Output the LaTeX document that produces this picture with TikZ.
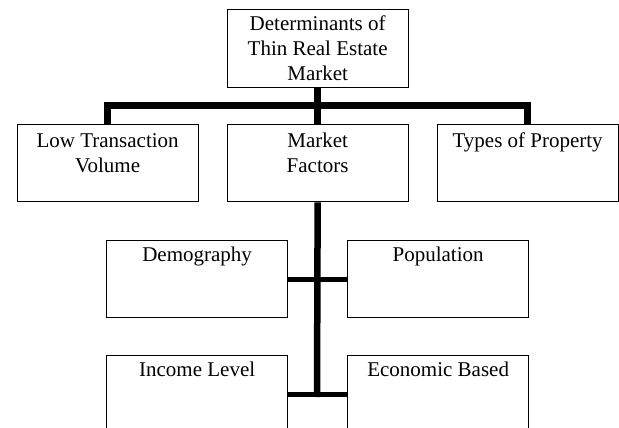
\documentclass[tikz,border=0pt]{standalone}
\usepackage{fontspec}
\setmainfont{Liberation Serif}
\tikzset{
  box/.style={draw, line width=1.3pt, minimum width=181pt, minimum height=77pt, inner sep=0pt, anchor=north west},
  lbl/.style={anchor=north, align=center, inner sep=0pt, font=\fontsize{21}{25}\selectfont},
  conn/.style={line width=6.5pt, line join=miter},
  branch/.style={line width=5pt}
}
\begin{document}
\begin{tikzpicture}[x=1pt,y=-1pt]
\useasboundingbox (0,0) rectangle (619,428);
\begin{scope}
\clip (0,0) rectangle (619,428);
% boxes
\node[box, minimum height=78pt] (top) at (226.5,9) {};
\node[box] (low) at (16.5,124) {};
\node[box] (mf) at (226.5,124) {};
\node[box] (types) at (436.5,124) {};
\node[box] (dem) at (106,240) {};
\node[box] (pop) at (347,240) {};
\node[box] (inc) at (106,355) {};
\node[box] (eco) at (347,355) {};
% labels
\node[lbl] (ttop) at ([yshift=-7pt]top.north) {Determinants of\\Thin Real Estate\\Market};
\node[lbl] (tlow) at ([yshift=-9pt]low.north) {Low Transaction\\Volume};
\node[lbl] (tmf) at ([yshift=-9pt]mf.north) {Market\\Factors};
\node[lbl] (ttypes) at ([yshift=-9pt]types.north) {Types of Property};
\node[lbl] (tdem) at ([yshift=-7pt]dem.north) {Demography};
\node[lbl] (tpop) at ([yshift=-7pt]pop.north) {Population};
\node[lbl] (tinc) at ([yshift=-7pt]inc.north) {Income Level};
\node[lbl] (teco) at ([yshift=-7pt]eco.north) {Economic Based};
% connectors
\coordinate (bar) at (317,105.5);
\coordinate (tend) at (317,397);
\draw[conn] (top.south) -- (mf.north);
\draw[conn] (low.north) |- (bar) -| (types.north);
\draw[conn] (mf.south) -- (tend);
\draw[branch] (dem.east) -- (pop.west);
\draw[branch] (inc.east) -- (eco.west);
\end{scope}
\end{tikzpicture}
\end{document}
